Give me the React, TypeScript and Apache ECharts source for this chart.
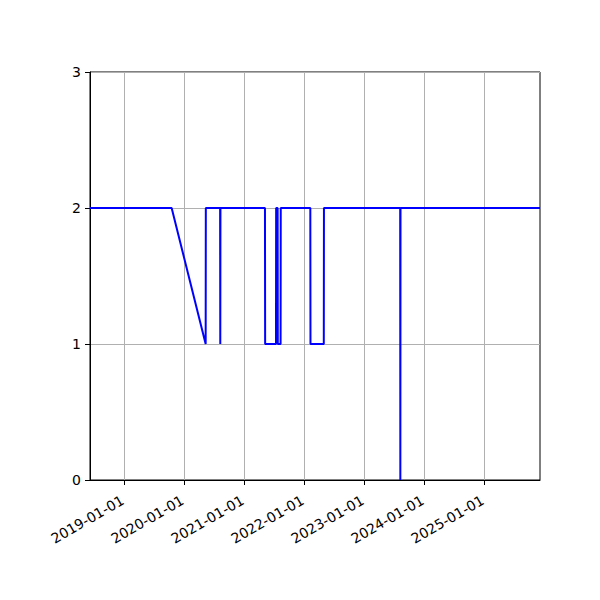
import { useEffect, useRef } from 'react'
import * as echarts from 'echarts'

// sample dates and values
const dates = [
  '2018-06-06', '2019-10-16', '2020-05-10', '2020-05-11',
  '2020-08-06', '2020-08-07', '2020-08-08',
  '2021-05-06', '2021-05-07', '2021-07-12', '2021-07-13',
  '2021-07-22', '2021-07-23', '2021-08-09', '2021-08-10',
  '2022-02-06', '2022-02-07', '2022-04-29', '2022-04-30',
  '2023-08-07', '2023-08-08', '2023-08-09', '2025-12-05'
]
const values = [
  2, 2, 1, 2,
  2, 1, 2,
  2, 1, 1, 2,
  2, 1, 1, 2,
  2, 1, 1, 2,
  2, 0, 2, 2
]
const yearTicks = ['2019-01-01', '2020-01-01', '2021-01-01', '2022-01-01', '2023-01-01', '2024-01-01', '2025-01-01']
const xStart = '2018-06-06'
const xEnd = '2025-12-05'

const ts = (d: string) => new Date(d + 'T00:00:00Z').getTime()

const fmt = (v: number) => {
  const d = new Date(v)
  const p = (n: number) => String(n).padStart(2, '0')
  return `${d.getUTCFullYear()}-${p(d.getUTCMonth() + 1)}-${p(d.getUTCDate())}`
}

const App: React.FC = () => {
  const chartRef = useRef<HTMLDivElement>(null)

  useEffect(() => {
    if (!chartRef.current) return
    const chart = echarts.init(chartRef.current, undefined, { renderer: 'svg' })
    const tickValues = yearTicks.map(ts)

    chart.setOption({
      animation: false,
      backgroundColor: '#ffffff',
      grid: {
        left: 90,
        right: 60,
        top: 72,
        bottom: 120,
        show: true,
        borderColor: '#000000',
        borderWidth: 1,
        backgroundColor: 'transparent'
      },
      xAxis: {
        type: 'value',
        min: ts(xStart),
        max: ts(xEnd),
        axisLine: { show: true, onZero: false, lineStyle: { color: '#000000', width: 1 } },
        axisTick: { show: true, length: 5, customValues: tickValues, lineStyle: { color: '#000000' } },
        axisLabel: {
          customValues: tickValues,
          rotate: 30,
          margin: 18,
          padding: [0, 2, 0, 0],
          color: '#000000',
          fontFamily: 'DejaVu Sans',
          fontSize: 14,
          formatter: (v: number) => fmt(v)
        },
        splitLine: { show: true, lineStyle: { color: '#b0b0b0', width: 1 } }
      },
      yAxis: {
        type: 'value',
        min: 0,
        max: 3,
        interval: 1,
        axisLine: { show: true, lineStyle: { color: '#000000', width: 1 } },
        axisTick: { show: true, length: 5, lineStyle: { color: '#000000' } },
        axisLabel: { color: '#000000', fontFamily: 'DejaVu Sans', fontSize: 14, margin: 9 },
        splitLine: { show: true, lineStyle: { color: '#b0b0b0', width: 1 } }
      },
      series: [
        {
          type: 'line',
          data: dates.map((d, i) => [ts(d), values[i]]),
          showSymbol: false,
          lineStyle: { color: '#0000ff', width: 2 },
          itemStyle: { color: '#0000ff' }
        }
      ]
    })

    return () => chart.dispose()
  }, [])

  return (
    <div
      ref={chartRef}
      style={{ position: 'fixed', left: 0, top: 0, width: '600px', height: '600px' }}
    />
  )
}

export default App
